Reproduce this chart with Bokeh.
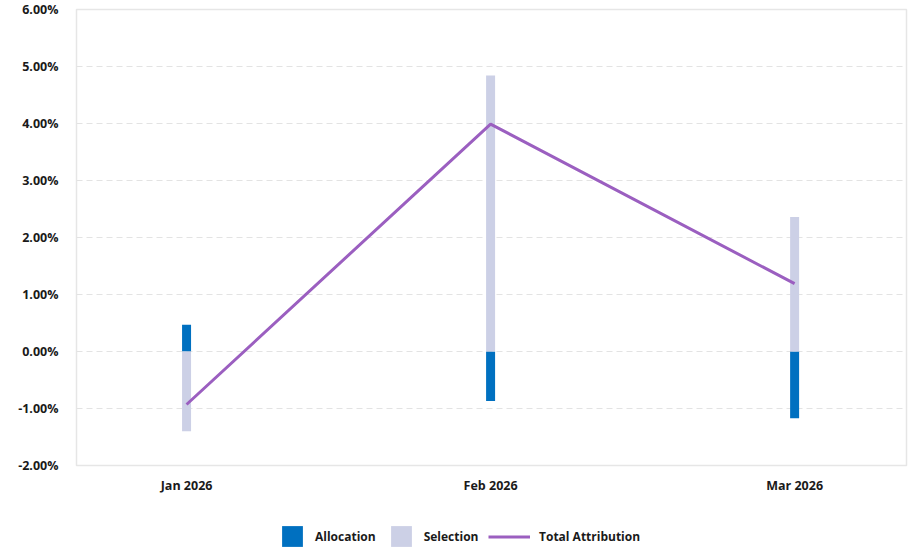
from bokeh.plotting import figure
from bokeh.layouts import column
from bokeh.models import (Range1d, FixedTicker, PrintfTickFormatter, Legend,
                          LegendItem)
from bokeh.embed import file_html
from bokeh.resources import INLINE

months = ["Jan 2026", "Feb 2026", "Mar 2026"]
allocation = [0.47, -0.87, -1.17]
selection = [-1.40, 4.84, 2.36]
total = [-0.93, 3.99, 1.19]
y_ticks = [-2, -1, 0, 1, 2, 3, 4, 5, 6]

FONT = "Open Sans"
TXT = "#1a1a1a"
C_ALLOC = "#0070c0"
C_SEL = "#ccd0e6"
C_TOT = "#9b5fc0"

x = list(range(len(months)))

# stacked positive / negative
pos = [0.0] * len(months)
neg = [0.0] * len(months)
stacks = {}
for name, vals in (("alloc", allocation), ("sel", selection)):
    bottoms, tops = [], []
    for i, v in enumerate(vals):
        if v >= 0:
            bottoms.append(pos[i]); tops.append(pos[i] + v); pos[i] += v
        else:
            bottoms.append(neg[i]); tops.append(neg[i] + v); neg[i] += v
    stacks[name] = (bottoms, tops)

p = figure(width=908, height=500, output_backend="svg", toolbar_location=None,
           x_range=Range1d(-0.362, 2.368), y_range=Range1d(-2, 6),
           min_border_left=76, min_border_right=2, min_border_top=9,
           min_border_bottom=35)

p.outline_line_color = "#e6e6e6"
p.outline_line_width = 1.5
p.background_fill_color = "white"
p.border_fill_color = "white"

p.xgrid.grid_line_color = None
p.ygrid.grid_line_color = "#e3e3e3"
p.ygrid.grid_line_dash = "6 4"
p.ygrid.grid_line_width = 1

W = 0.0296
p.vbar(x=x, bottom=stacks["alloc"][0], top=stacks["alloc"][1], width=W,
       fill_color=C_ALLOC, line_color=None)
p.vbar(x=x, bottom=stacks["sel"][0], top=stacks["sel"][1], width=W,
       fill_color=C_SEL, line_color=None)
p.line(x=x, y=total, line_color=C_TOT, line_width=3)

p.xaxis.ticker = FixedTicker(ticks=x)
p.xaxis.major_label_overrides = {i: m for i, m in enumerate(months)}
p.yaxis.ticker = FixedTicker(ticks=y_ticks)
p.yaxis.formatter = PrintfTickFormatter(format="%.2f%%")

for ax in (p.xaxis, p.yaxis):
    ax.axis_line_color = None
    ax.major_tick_line_color = None
    ax.minor_tick_line_color = None
    ax.major_tick_out = 0
    ax.major_tick_in = 0
    ax.major_label_text_font = FONT
    ax.major_label_text_font_style = "bold"
    ax.major_label_text_font_size = "12.5px"
    ax.major_label_text_color = TXT
p.yaxis.major_label_standoff = 18
p.xaxis.major_label_standoff = 11

# legend strip below the chart (its frame is aligned with the chart frame)
lg_fig = figure(width=908, height=48, output_backend="svg", toolbar_location=None,
                x_range=Range1d(0, 1), y_range=Range1d(0, 1),
                x_axis_type=None, y_axis_type=None, min_border=0)
lg_fig.outline_line_color = None
lg_fig.border_fill_color = "white"
lg_fig.background_fill_color = "white"

# off-screen proxy glyphs that carry the legend styles
d_alloc = lg_fig.vbar(x=[-10], top=[-10], bottom=[-11], width=0.1,
                      fill_color=C_ALLOC, line_color=None)
d_sel = lg_fig.vbar(x=[-10], top=[-10], bottom=[-11], width=0.1,
                    fill_color=C_SEL, line_color=None)
d_tot = lg_fig.line(x=[-10, -9], y=[-10, -10], line_color=C_TOT, line_width=3)

leg1 = Legend(items=[LegendItem(label="Allocation", renderers=[d_alloc]),
                     LegendItem(label="Selection", renderers=[d_sel])],
              location=(203, -1), orientation="horizontal",
              glyph_width=26, glyph_height=26, spacing=12,
              label_standoff=10,
              padding=0, margin=0, border_line_color=None,
              background_fill_alpha=0)
leg2 = Legend(items=[LegendItem(label="Total Attribution", renderers=[d_tot])],
              location=(412, 1), orientation="horizontal",
              glyph_width=42, glyph_height=21, label_standoff=9,
              padding=0, margin=0, border_line_color=None,
              background_fill_alpha=0)
for lg in (leg1, leg2):
    lg.label_text_font = FONT
    lg.label_text_font_style = "bold"
    lg.label_text_font_size = "12px"
    lg.label_text_color = TXT
    lg.label_height = 21
    lg_fig.add_layout(lg, "center")

layout = column(p, lg_fig, spacing=0)
open("out.html", "w").write(file_html(layout, INLINE))
